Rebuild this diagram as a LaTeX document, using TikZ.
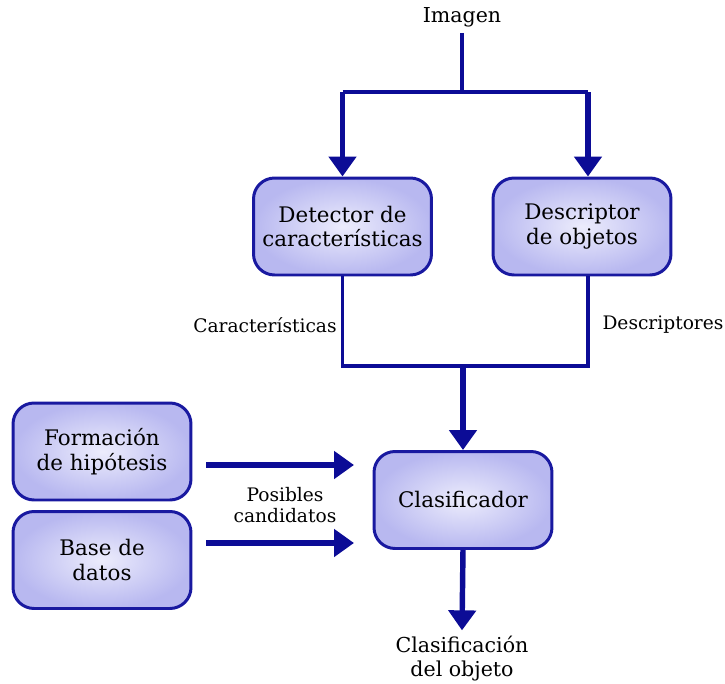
\documentclass[tikz,border=0pt]{standalone}
\usepackage{fontspec}
\setmainfont{DejaVu Serif}
\usetikzlibrary{arrows.meta,positioning}

\definecolor{azul}{RGB}{12,12,150}
\definecolor{borde}{RGB}{25,25,160}
\definecolor{claro}{RGB}{236,236,252}
\definecolor{oscuro}{RGB}{184,184,240}

\tikzset{
  caja/.style={draw=borde, line width=1.7pt, rounded corners=0.42cm,
    inner color=claro, outer color=oscuro,
    minimum width=3.56cm, minimum height=1.94cm,
    align=center, font=\fontsize{12.2}{14.2}\selectfont},
  flecha/.style={azul, line width=3.1pt, -{Triangle[width=0.54cm,length=0.40cm]}},
  linea/.style={azul, line width=2pt},
  etiq/.style={font=\fontsize{10.6}{12.3}\selectfont, align=center},
  texto/.style={font=\fontsize{11.7}{13.6}\selectfont, align=center},
}

\begin{document}
\begin{tikzpicture}[x=0.02cm, y=-0.02cm]

\useasboundingbox (0,0) rectangle (725,684);

% cajas
\node[caja] (detector) at (342.5,226.5) {Detector de\\características};
\node[caja] (descriptor) at (582,226.5) {Descriptor\\de objetos};
\node[caja] (formacion) at (102,451.5) {Formación\\de hipótesis};
\node[caja] (base) at (102,560) {Base de\\datos};
\node[caja] (clasificador) at (463,500) {Clasificador};

% textos
\node[texto] (imagen) at (462,17) {Imagen};
\node[texto] (salida) at (462,659) {Clasificación\\del objeto};
\node[etiq] (caract) at (265,325) {Características};
\node[etiq] (descr) at (663,325) {Descriptores};
\node[etiq] (posibles) at (285,505) {Posibles\\candidatos};

% puntos de union
\coordinate (rama) at (462,92);
\coordinate (ramaDer) at (588,92);
\coordinate (union) at (463,366);
\coordinate (h1a) at (206,465);
\coordinate (h1b) at (354,465);
\coordinate (h2a) at (206,543);
\coordinate (h2b) at (354,543);

% entrada
\draw[linea] (imagen.south) -- (rama);
\draw[linea] (detector.north |- rama) -- (ramaDer);
\draw[flecha] (detector.north |- rama) -- (detector.north);
\draw[flecha] (ramaDer) -- (ramaDer |- descriptor.north);

% salidas de los detectores
\draw[linea] (detector.south) |- (union) -| (ramaDer |- descriptor.south);
\draw[flecha] (union) -- (clasificador.north);

% hipotesis y base de datos
\draw[flecha] (h1a) -- (h1b);
\draw[flecha] (h2a) -- (h2b);

\draw[flecha] (clasificador.south) -- (salida.north);

\end{tikzpicture}
\end{document}
